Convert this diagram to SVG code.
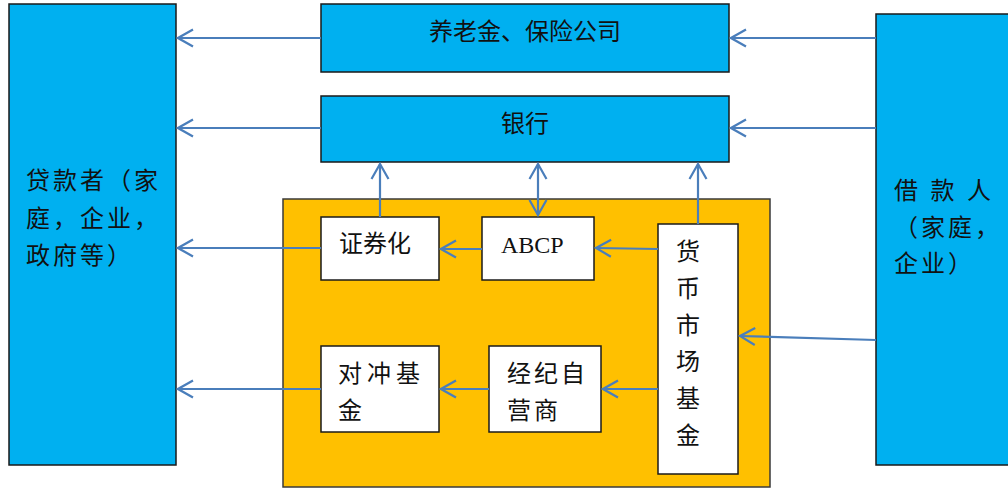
<svg xmlns="http://www.w3.org/2000/svg" width="1008" height="488" viewBox="0 0 1008 488">
<defs>
<marker id="arr" viewBox="-17 -11 19 22" refX="0" refY="0" markerWidth="19" markerHeight="22" markerUnits="userSpaceOnUse" orient="auto-start-reverse">
<path d="M-15,-8.5 L0,0 L-15,8.5" fill="none" stroke="#4A7EBB" stroke-width="2.2" stroke-linejoin="miter"/>
</marker>
<style>
.blue{fill:#00B0F0;stroke:#1a1a1a;stroke-width:1.5}
.orange{fill:#FFC000;stroke:#3a3a3a;stroke-width:1.5}
.white{fill:#FFFFFF;stroke:#1a1a1a;stroke-width:1.5}
.t{font-family:"Noto Sans CJK SC","Noto Sans",sans-serif;font-size:24px;fill:#111}
.ts{font-family:"Liberation Serif",serif;font-size:24px;fill:#111}
.c{fill:none;stroke:#4A7EBB;stroke-width:2.2;marker-end:url(#arr)}
.d{fill:none;stroke:#4A7EBB;stroke-width:2.2;marker-end:url(#arr);marker-start:url(#arr)}
</style>
</defs>
<g id="lenders">
<rect class="blue" x="9" y="4" width="167" height="461"/>
<text class="t" x="26" y="189" letter-spacing="3">贷款者（家</text>
<text class="t" x="26" y="227" letter-spacing="3">庭，企业，</text>
<text class="t" x="26" y="264" letter-spacing="3">政府等）</text>
</g>
<g id="pension">
<rect class="blue" x="321" y="4" width="408" height="68"/>
<text class="t" x="525" y="40" text-anchor="middle">养老金、保险公司</text>
</g>
<g id="bank">
<rect class="blue" x="321" y="96" width="408" height="66"/>
<text class="t" x="525" y="132" text-anchor="middle">银行</text>
</g>
<g id="borrowers">
<rect class="blue" x="876" y="14" width="140" height="451"/>
<text class="t" x="894" y="199" letter-spacing="12.5">借款人</text>
<text class="t" x="894" y="236" letter-spacing="3">（家庭，</text>
<text class="t" x="894" y="272" letter-spacing="3">企业）</text>
</g>
<g id="shadow-banking">
<rect class="orange" x="283" y="199" width="487" height="288"/>
</g>
<g id="securitization">
<rect class="white" x="321" y="217" width="118" height="63"/>
<text class="t" x="339" y="252">证券化</text>
</g>
<g id="abcp">
<rect class="white" x="482" y="217" width="112" height="63"/>
<text class="ts" x="501" y="253">ABCP</text>
</g>
<g id="mmf">
<rect class="white" x="658" y="224" width="80" height="250"/>
<text class="t" x="688" y="260" text-anchor="middle">货</text>
<text class="t" x="688" y="297" text-anchor="middle">币</text>
<text class="t" x="688" y="334" text-anchor="middle">市</text>
<text class="t" x="688" y="370" text-anchor="middle">场</text>
<text class="t" x="688" y="407" text-anchor="middle">基</text>
<text class="t" x="688" y="444" text-anchor="middle">金</text>
</g>
<g id="hedge-fund">
<rect class="white" x="321" y="346" width="118" height="86"/>
<text class="t" x="338" y="382" letter-spacing="5">对冲基</text>
<text class="t" x="338" y="419">金</text>
</g>
<g id="broker-dealer">
<rect class="white" x="489" y="346" width="112" height="86"/>
<text class="t" x="507" y="382" letter-spacing="3">经纪自</text>
<text class="t" x="507" y="419" letter-spacing="3">营商</text>
</g>
<g id="connectors">
<path class="c" d="M321,38 L178,38"/>
<path class="c" d="M321,128 L178,128"/>
<path class="c" d="M321,248 L178,248"/>
<path class="c" d="M321,389 L178,389"/>
<path class="c" d="M876,38 L731,38"/>
<path class="c" d="M876,128 L731,128"/>
<path class="c" d="M876,340 L740,336"/>
<path class="c" d="M380,217 L380,164"/>
<path class="d" d="M538,164 L538,215"/>
<path class="c" d="M698,224 L698,164"/>
<path class="c" d="M482,249 L441,249"/>
<path class="c" d="M658,249 L596,248"/>
<path class="c" d="M658,389 L603,389"/>
<path class="c" d="M489,389 L441,389"/>
</g>
</svg>
